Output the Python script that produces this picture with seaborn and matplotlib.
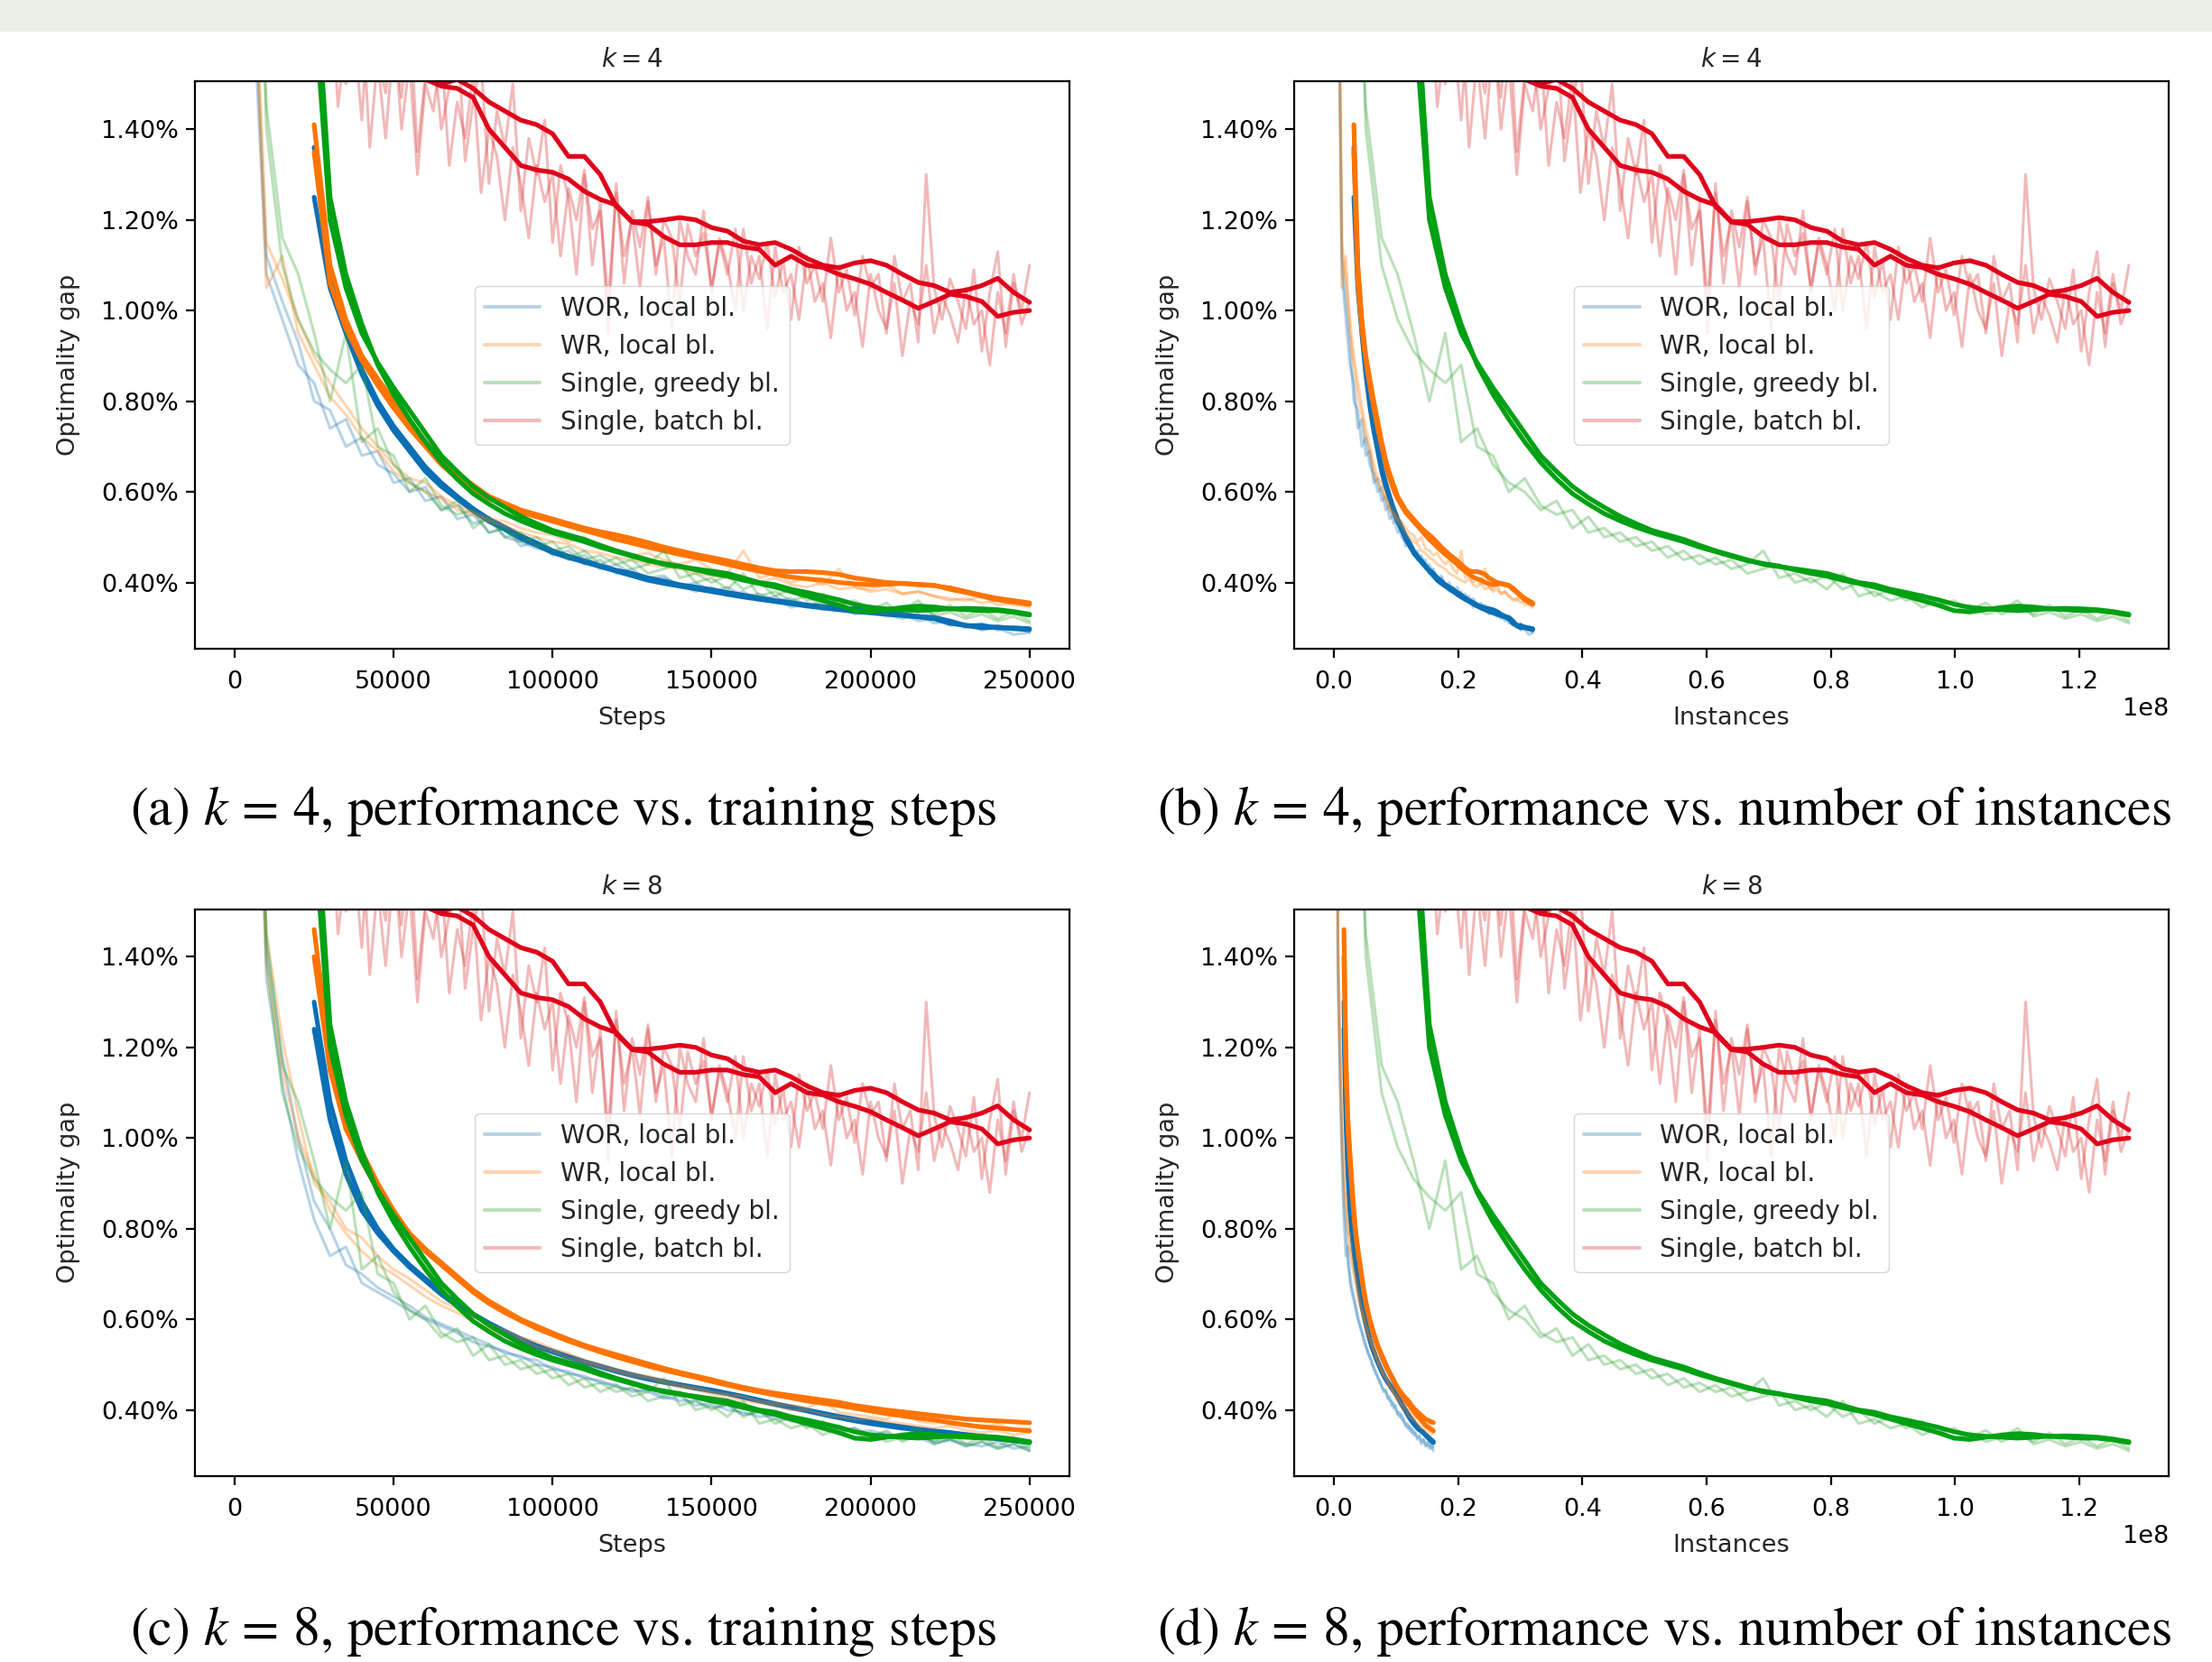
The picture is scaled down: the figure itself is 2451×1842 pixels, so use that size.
import matplotlib
matplotlib.use("Agg")
import matplotlib.pyplot as plt
import numpy as np
import seaborn as sns
from matplotlib.lines import Line2D
from matplotlib.patches import Rectangle
from matplotlib.ticker import PercentFormatter

# evaluation grid (training steps)
RAW_STEP = 5000          # raw evals for WOR / WR / greedy
RED_RAW_STEP = 2500      # raw evals for batch baseline
SMOOTH_START = 25000     # smoothed curves start after the window is full
SMOOTH_STEP = 5000

# instances seen per training step
INST_K4 = {"wor": 128, "wr": 128, "greedy": 512, "batch": 512}
INST_K8 = {"wor": 64, "wr": 64, "greedy": 512, "batch": 512}

LABELS = ["WOR, local bl.", "WR, local bl.", "Single, greedy bl.", "Single, batch bl."]

# optimality gap in %, two seeds per method
wor_k4_raw_a = [4.5, 1.9, 1.12, 1.02, 0.93, 0.80, 0.78, 0.70, 0.72, 0.66, 0.64, 0.60, 0.61, 0.56, 0.57, 0.53, 0.54,
                0.50, 0.49, 0.475, 0.47, 0.45, 0.46, 0.43, 0.44, 0.42, 0.41, 0.415, 0.39, 0.40, 0.38, 0.39, 0.37,
                0.375, 0.36, 0.365, 0.35, 0.355, 0.34, 0.345, 0.335, 0.33, 0.32, 0.33, 0.31, 0.315, 0.30, 0.31,
                0.295, 0.30, 0.29]
wor_k4_raw_b = [4.3, 1.8, 1.08, 0.98, 0.88, 0.84, 0.74, 0.76, 0.68, 0.69, 0.62, 0.63, 0.58, 0.59, 0.54, 0.55, 0.51,
                0.52, 0.48, 0.49, 0.46, 0.47, 0.44, 0.45, 0.42, 0.43, 0.405, 0.41, 0.395, 0.38, 0.39, 0.37, 0.38,
                0.36, 0.37, 0.345, 0.355, 0.34, 0.35, 0.33, 0.335, 0.325, 0.33, 0.315, 0.32, 0.305, 0.31, 0.295,
                0.30, 0.285, 0.29]
wor_k4_smooth_a = [1.36, 1.09, 0.97, 0.87, 0.80, 0.745, 0.70, 0.655, 0.62, 0.59, 0.563, 0.54, 0.522, 0.503, 0.487,
                   0.47, 0.458, 0.448, 0.437, 0.427, 0.42, 0.41, 0.403, 0.395, 0.39, 0.384, 0.378, 0.372, 0.366,
                   0.36, 0.356, 0.35, 0.347, 0.344, 0.342, 0.34, 0.336, 0.33, 0.325, 0.323, 0.315, 0.305, 0.30,
                   0.302, 0.298, 0.296]
wor_k4_smooth_b = [1.25, 1.05, 0.95, 0.86, 0.79, 0.735, 0.69, 0.645, 0.612, 0.585, 0.558, 0.535, 0.517, 0.497,
                   0.482, 0.466, 0.455, 0.445, 0.435, 0.425, 0.415, 0.405, 0.398, 0.392, 0.386, 0.38, 0.374, 0.368,
                   0.363, 0.358, 0.353, 0.348, 0.344, 0.34, 0.336, 0.333, 0.33, 0.327, 0.324, 0.32, 0.31, 0.305,
                   0.305, 0.30, 0.30, 0.298]

wr_k4_raw_a = [4.6, 2.0, 1.15, 1.07, 0.98, 0.90, 0.84, 0.79, 0.74, 0.70, 0.66, 0.63, 0.62, 0.59, 0.57, 0.555, 0.54,
               0.535, 0.52, 0.51, 0.505, 0.49, 0.50, 0.475, 0.47, 0.46, 0.465, 0.45, 0.44, 0.45, 0.43, 0.42, 0.47,
               0.41, 0.42, 0.40, 0.41, 0.395, 0.43, 0.39, 0.385, 0.395, 0.375, 0.38, 0.37, 0.365, 0.36, 0.37, 0.35,
               0.355, 0.345]
wr_k4_raw_b = [4.4, 1.95, 1.05, 1.12, 0.95, 0.88, 0.81, 0.77, 0.72, 0.69, 0.645, 0.62, 0.60, 0.585, 0.56, 0.55,
               0.535, 0.525, 0.51, 0.50, 0.49, 0.485, 0.47, 0.465, 0.455, 0.45, 0.44, 0.435, 0.43, 0.42, 0.415, 0.41,
               0.405, 0.40, 0.41, 0.395, 0.39, 0.40, 0.385, 0.39, 0.38, 0.385, 0.375, 0.38, 0.37, 0.36, 0.365, 0.355,
               0.36, 0.35, 0.35]
wr_k4_smooth_a = [1.41, 1.10, 0.98, 0.90, 0.85, 0.80, 0.755, 0.71, 0.67, 0.64, 0.615, 0.59, 0.575, 0.56, 0.55, 0.54,
                  0.53, 0.52, 0.512, 0.505, 0.497, 0.488, 0.478, 0.47, 0.462, 0.455, 0.448, 0.44, 0.432, 0.426, 0.424,
                  0.424, 0.422, 0.418, 0.41, 0.405, 0.40, 0.398, 0.396, 0.394, 0.385, 0.378, 0.37, 0.362, 0.357,
                  0.352]
wr_k4_smooth_b = [1.35, 1.06, 0.96, 0.89, 0.835, 0.785, 0.74, 0.70, 0.66, 0.63, 0.605, 0.585, 0.57, 0.555, 0.545,
                  0.535, 0.525, 0.515, 0.505, 0.495, 0.487, 0.478, 0.47, 0.462, 0.455, 0.448, 0.44, 0.432, 0.425,
                  0.418, 0.412, 0.408, 0.405, 0.40, 0.397, 0.395, 0.396, 0.398, 0.395, 0.393, 0.388, 0.38, 0.372,
                  0.365, 0.36, 0.355]

wor_k8_raw_a = [4.8, 2.4, 1.35, 1.12, 0.95, 0.82, 0.74, 0.76, 0.68, 0.66, 0.64, 0.62, 0.60, 0.585, 0.57, 0.55, 0.54,
                0.53, 0.515, 0.51, 0.49, 0.485, 0.47, 0.465, 0.45, 0.445, 0.44, 0.425, 0.43, 0.41, 0.415, 0.40,
                0.395, 0.385, 0.39, 0.375, 0.37, 0.36, 0.365, 0.35, 0.355, 0.345, 0.34, 0.345, 0.33, 0.335, 0.32,
                0.33, 0.315, 0.325, 0.31]
wor_k8_raw_b = [5.0, 2.6, 1.42, 1.18, 1.0, 0.86, 0.80, 0.72, 0.70, 0.67, 0.65, 0.63, 0.605, 0.59, 0.575, 0.56, 0.545,
                0.525, 0.52, 0.50, 0.495, 0.48, 0.475, 0.46, 0.455, 0.44, 0.445, 0.43, 0.42, 0.42, 0.405, 0.41, 0.39,
                0.395, 0.38, 0.38, 0.365, 0.37, 0.355, 0.36, 0.345, 0.35, 0.335, 0.34, 0.325, 0.335, 0.325, 0.32,
                0.33, 0.315, 0.32]
wor_k8_smooth_a = [1.24, 1.04, 0.92, 0.84, 0.79, 0.75, 0.715, 0.685, 0.655, 0.63, 0.61, 0.59, 0.572, 0.555, 0.54,
                   0.528, 0.516, 0.505, 0.495, 0.485, 0.476, 0.468, 0.461, 0.455, 0.448, 0.442, 0.436, 0.428, 0.42,
                   0.412, 0.405, 0.398, 0.39, 0.383, 0.376, 0.37, 0.365, 0.36, 0.356, 0.353, 0.35, 0.345, 0.34,
                   0.336, 0.332, 0.328]
wor_k8_smooth_b = [1.30, 1.08, 0.95, 0.86, 0.80, 0.755, 0.72, 0.69, 0.66, 0.635, 0.612, 0.592, 0.574, 0.557, 0.542,
                   0.53, 0.518, 0.507, 0.497, 0.487, 0.478, 0.47, 0.463, 0.456, 0.45, 0.444, 0.437, 0.43, 0.422,
                   0.414, 0.407, 0.40, 0.393, 0.386, 0.38, 0.374, 0.368, 0.363, 0.358, 0.354, 0.35, 0.346, 0.342,
                   0.338, 0.334, 0.33]

wr_k8_raw_a = [4.9, 2.5, 1.45, 1.22, 1.05, 0.90, 0.86, 0.80, 0.78, 0.74, 0.71, 0.69, 0.665, 0.64, 0.625, 0.605, 0.59,
               0.575, 0.56, 0.55, 0.535, 0.525, 0.51, 0.50, 0.49, 0.48, 0.475, 0.465, 0.455, 0.45, 0.44, 0.435, 0.43,
               0.42, 0.415, 0.41, 0.405, 0.42, 0.395, 0.39, 0.385, 0.38, 0.40, 0.375, 0.37, 0.38, 0.365, 0.36, 0.37,
               0.355, 0.36]
wr_k8_raw_b = [4.7, 2.3, 1.38, 1.15, 1.0, 0.92, 0.84, 0.79, 0.75, 0.72, 0.70, 0.675, 0.65, 0.63, 0.615, 0.595, 0.58,
               0.565, 0.555, 0.54, 0.53, 0.515, 0.505, 0.495, 0.485, 0.475, 0.47, 0.46, 0.45, 0.445, 0.435, 0.43,
               0.42, 0.415, 0.41, 0.40, 0.40, 0.39, 0.385, 0.38, 0.38, 0.375, 0.37, 0.365, 0.36, 0.365, 0.355, 0.35,
               0.355, 0.345, 0.35]
wr_k8_smooth_a = [1.46, 1.18, 1.04, 0.97, 0.90, 0.84, 0.79, 0.755, 0.725, 0.695, 0.665, 0.64, 0.62, 0.60, 0.585,
                  0.57, 0.556, 0.543, 0.532, 0.522, 0.512, 0.502, 0.492, 0.483, 0.475, 0.467, 0.458, 0.45, 0.443,
                  0.437, 0.432, 0.427, 0.422, 0.417, 0.41, 0.405, 0.40, 0.396, 0.392, 0.388, 0.384, 0.38, 0.378,
                  0.376, 0.374, 0.372]
wr_k8_smooth_b = [1.40, 1.15, 1.02, 0.95, 0.885, 0.83, 0.785, 0.75, 0.72, 0.69, 0.66, 0.635, 0.615, 0.597, 0.58,
                  0.566, 0.552, 0.54, 0.528, 0.517, 0.507, 0.497, 0.488, 0.48, 0.472, 0.463, 0.455, 0.447, 0.44,
                  0.433, 0.427, 0.42, 0.415, 0.41, 0.404, 0.398, 0.392, 0.387, 0.382, 0.378, 0.372, 0.367, 0.363,
                  0.36, 0.357, 0.354]

# single-sample runs are the same for k=4 and k=8
greedy_raw_a = [5.0, 2.3, 1.45, 1.16, 1.08, 0.95, 0.80, 0.95, 0.71, 0.74, 0.66, 0.62, 0.60, 0.56, 0.58, 0.52, 0.545,
                0.50, 0.51, 0.48, 0.49, 0.455, 0.47, 0.44, 0.455, 0.43, 0.44, 0.47, 0.41, 0.42, 0.40, 0.415, 0.385,
                0.40, 0.37, 0.385, 0.36, 0.375, 0.35, 0.36, 0.34, 0.355, 0.33, 0.345, 0.33, 0.35, 0.325, 0.34, 0.32,
                0.335, 0.315]
greedy_raw_b = [5.2, 2.5, 1.40, 1.10, 0.98, 0.91, 0.87, 0.84, 0.88, 0.70, 0.68, 0.60, 0.63, 0.57, 0.55, 0.56, 0.51,
                0.52, 0.49, 0.50, 0.47, 0.48, 0.45, 0.46, 0.44, 0.45, 0.42, 0.43, 0.44, 0.40, 0.41, 0.385, 0.42, 0.37,
                0.38, 0.36, 0.37, 0.345, 0.36, 0.335, 0.35, 0.33, 0.34, 0.36, 0.325, 0.335, 0.32, 0.33, 0.315, 0.325,
                0.31]
greedy_smooth_a = [1.68, 1.20, 1.05, 0.95, 0.885, 0.83, 0.78, 0.73, 0.68, 0.645, 0.612, 0.587, 0.566, 0.546, 0.53,
                   0.515, 0.505, 0.495, 0.482, 0.47, 0.46, 0.45, 0.44, 0.435, 0.43, 0.425, 0.42, 0.41, 0.40, 0.395,
                   0.385, 0.378, 0.37, 0.362, 0.352, 0.345, 0.342, 0.34, 0.338, 0.34, 0.342, 0.343, 0.342, 0.34,
                   0.336, 0.33]
greedy_smooth_b = [1.80, 1.25, 1.08, 0.97, 0.88, 0.815, 0.76, 0.71, 0.665, 0.628, 0.596, 0.573, 0.552, 0.536, 0.522,
                   0.51, 0.50, 0.49, 0.478, 0.468, 0.458, 0.448, 0.442, 0.436, 0.428, 0.42, 0.414, 0.405, 0.398,
                   0.39, 0.38, 0.37, 0.36, 0.35, 0.338, 0.335, 0.34, 0.345, 0.348, 0.346, 0.342, 0.34, 0.338, 0.338,
                   0.334, 0.328]

batch_raw_a = [3.5, 3.1, 2.8, 2.6, 2.4, 2.25, 2.1, 2.0, 1.9, 1.85, 1.78,
               1.72, 1.58, 1.68, 1.50, 1.62, 1.42, 1.70, 1.55, 1.38, 1.60,
               1.47, 1.66, 1.35, 1.52, 1.58, 1.40, 1.49, 1.62, 1.33, 1.46,
               1.55, 1.28, 1.44, 1.36, 1.50, 1.22, 1.38, 1.30, 1.42, 1.15,
               1.32, 1.25, 1.08, 1.30, 1.18, 1.22, 1.02, 1.26, 1.12, 1.20,
               1.05, 1.24, 1.10, 1.16, 0.96, 1.20, 1.12, 1.08, 1.22, 1.04,
               1.16, 1.10, 1.00, 1.18, 1.06, 1.12, 0.96, 1.14, 1.04, 1.08,
               0.98, 1.12, 1.02, 1.06, 0.94, 1.10, 1.00, 1.04, 0.92, 1.08,
               1.00, 0.96, 1.06, 0.90, 1.02, 0.97, 1.10, 0.95, 1.03, 0.99,
               0.93, 1.05, 0.97, 1.00, 0.88, 1.04, 0.95, 1.08, 0.97, 1.02]
batch_raw_b = [3.4, 3.0, 2.7, 2.5, 2.3, 2.15, 2.05, 1.95, 1.85, 1.78, 1.70,
               1.62, 1.74, 1.45, 1.60, 1.52, 1.68, 1.36, 1.56, 1.48, 1.64,
               1.40, 1.55, 1.30, 1.50, 1.44, 1.58, 1.32, 1.46, 1.38, 1.52,
               1.26, 1.40, 1.34, 1.20, 1.36, 1.28, 1.16, 1.32, 1.24, 1.30,
               1.12, 1.27, 1.20, 1.31, 1.10, 1.24, 0.95, 1.28, 1.06, 1.22,
               1.14, 1.25, 1.08, 1.20, 1.16, 1.02, 1.19, 1.12, 1.17, 1.05,
               1.15, 1.08, 1.18, 1.00, 1.12, 1.07, 1.15, 1.03, 1.11, 0.98,
               1.14, 1.06, 1.10, 1.02, 1.16, 1.04, 1.09, 0.99, 1.12, 1.05,
               1.08, 0.95, 1.12, 1.02, 1.06, 0.93, 1.30, 1.05, 0.98, 1.07,
               1.02, 0.96, 1.09, 0.91, 1.04, 1.13, 0.92, 1.06, 1.00, 1.10]
batch_smooth_a = [2.05, 1.92, 1.82, 1.73, 1.66, 1.61, 1.56, 1.52, 1.50, 1.51, 1.49, 1.46, 1.44, 1.42, 1.41, 1.39,
                  1.34, 1.34, 1.30, 1.23, 1.195, 1.19, 1.163, 1.145, 1.145, 1.15, 1.15, 1.14, 1.135, 1.10, 1.12,
                  1.10, 1.095, 1.08, 1.07, 1.058, 1.04, 1.023, 1.005, 1.02, 1.036, 1.031, 1.02, 0.987, 0.996, 1.00]
batch_smooth_b = [1.95, 1.84, 1.75, 1.68, 1.62, 1.58, 1.54, 1.51, 1.495, 1.49, 1.47, 1.40, 1.36, 1.32, 1.31, 1.305,
                  1.29, 1.263, 1.245, 1.233, 1.196, 1.196, 1.20, 1.205, 1.20, 1.183, 1.175, 1.153, 1.145, 1.15,
                  1.135, 1.115, 1.10, 1.094, 1.105, 1.11, 1.10, 1.08, 1.062, 1.055, 1.04, 1.045, 1.055, 1.071, 1.04,
                  1.018]

RUNS_K4 = {
    "wor": (wor_k4_raw_a, wor_k4_raw_b, wor_k4_smooth_a, wor_k4_smooth_b),
    "wr": (wr_k4_raw_a, wr_k4_raw_b, wr_k4_smooth_a, wr_k4_smooth_b),
    "greedy": (greedy_raw_a, greedy_raw_b, greedy_smooth_a, greedy_smooth_b),
    "batch": (batch_raw_a, batch_raw_b, batch_smooth_a, batch_smooth_b),
}
RUNS_K8 = {
    "wor": (wor_k8_raw_a, wor_k8_raw_b, wor_k8_smooth_a, wor_k8_smooth_b),
    "wr": (wr_k8_raw_a, wr_k8_raw_b, wr_k8_smooth_a, wr_k8_smooth_b),
    "greedy": (greedy_raw_a, greedy_raw_b, greedy_smooth_a, greedy_smooth_b),
    "batch": (batch_raw_a, batch_raw_b, batch_smooth_a, batch_smooth_b),
}

RAW_COLORS = {"wor": "#1f77b4", "wr": "#ff7f0e", "greedy": "#2ca02c", "batch": "#d62728"}
SMOOTH_COLORS = {"wor": "#0b6fb5", "wr": "#ff7400", "greedy": "#00a014", "batch": "#e0001b"}
RAW_ALPHA = 0.32

FS = 19.5

sns.set_style("ticks", {"axes.edgecolor": "black", "xtick.color": "black", "ytick.color": "black",
                        "text.color": "#262626", "axes.labelcolor": "#262626"})
plt.rcParams["font.family"] = ["DejaVu Sans"]
plt.rcParams["axes.linewidth"] = 1.6


def draw_panel(ax, runs, inst, title, xlabel):
    for m in ["wor", "wr", "greedy", "batch"]:
        raw_a, raw_b, sm_a, sm_b = runs[m]
        raw_step = RED_RAW_STEP if m == "batch" else RAW_STEP
        scale = 1 if inst is None else inst[m]
        for raw in (raw_a, raw_b):
            x = np.arange(len(raw)) * raw_step * scale
            sns.lineplot(x=x, y=raw, ax=ax, color=RAW_COLORS[m], alpha=RAW_ALPHA, lw=2.2,
                         estimator=None, legend=False)
        for sm in (sm_a, sm_b):
            x = (SMOOTH_START + np.arange(len(sm)) * SMOOTH_STEP) * scale
            sns.lineplot(x=x, y=sm, ax=ax, color=SMOOTH_COLORS[m], lw=3.7,
                         estimator=None, legend=False)

    ax.set_ylim(0.254, 1.505)
    ax.yaxis.set_major_formatter(PercentFormatter(xmax=100, decimals=2))
    ax.set_title(title, fontsize=FS + 0.5, pad=12)
    ax.set_xlabel(xlabel, fontsize=FS)
    ax.set_ylabel("Optimality gap", fontsize=FS)
    ax.xaxis.set_label_coords(0.5, -0.102)
    ax.yaxis.set_label_coords(-0.131, 0.5)
    ax.tick_params(labelsize=FS, length=7, width=1.6, pad=6)
    ax.tick_params(axis="x", pad=10)
    ax.xaxis.get_offset_text().set_fontsize(FS)
    for s in ax.spines.values():
        s.set_visible(True)
        s.set_linewidth(1.6)

    handles = [Line2D([], [], color=RAW_COLORS[m], alpha=RAW_ALPHA, lw=2.9)
               for m in ["wor", "wr", "greedy", "batch"]]
    ax.legend(handles, LABELS, loc="center", fontsize=FS + 0.5, handlelength=2.2,
              framealpha=0.8, edgecolor="0.8")


fig = plt.figure(figsize=(24.51, 18.42), dpi=100)
fig.patches.append(Rectangle((0, 1 - 34 / 1842), 1, 34 / 1842, transform=fig.transFigure,
                             color="#eaf0e6", zorder=0))

ax_a = fig.add_axes([0.0881, 0.6097, 0.3953, 0.3412])
ax_b = fig.add_axes([0.5851, 0.6097, 0.3953, 0.3412])
ax_c = fig.add_axes([0.0881, 0.1118, 0.3953, 0.3412])
ax_d = fig.add_axes([0.5851, 0.1118, 0.3953, 0.3412])

draw_panel(ax_a, RUNS_K4, None, r"$k = 4$", "Steps")
draw_panel(ax_b, RUNS_K4, INST_K4, r"$k = 4$", "Instances")
draw_panel(ax_c, RUNS_K8, None, r"$k = 8$", "Steps")
draw_panel(ax_d, RUNS_K8, INST_K8, r"$k = 8$", "Instances")

captions = [
    (0.2546, 0.5038, r"(a) $k\,=\,4$, performance vs. training steps"),
    (0.7523, 0.5038, r"(b) $k\,=\,4$, performance vs. number of instances"),
    (0.2546, 0.0105, r"(c) $k\,=\,8$, performance vs. training steps"),
    (0.7523, 0.0105, r"(d) $k\,=\,8$, performance vs. number of instances"),
]
for x, y, txt in captions:
    fig.text(x, y, txt, ha="center", va="baseline", fontsize=43, family="STIXGeneral",
             math_fontfamily="stix", color="black")

fig.savefig("out.png", dpi=100)
